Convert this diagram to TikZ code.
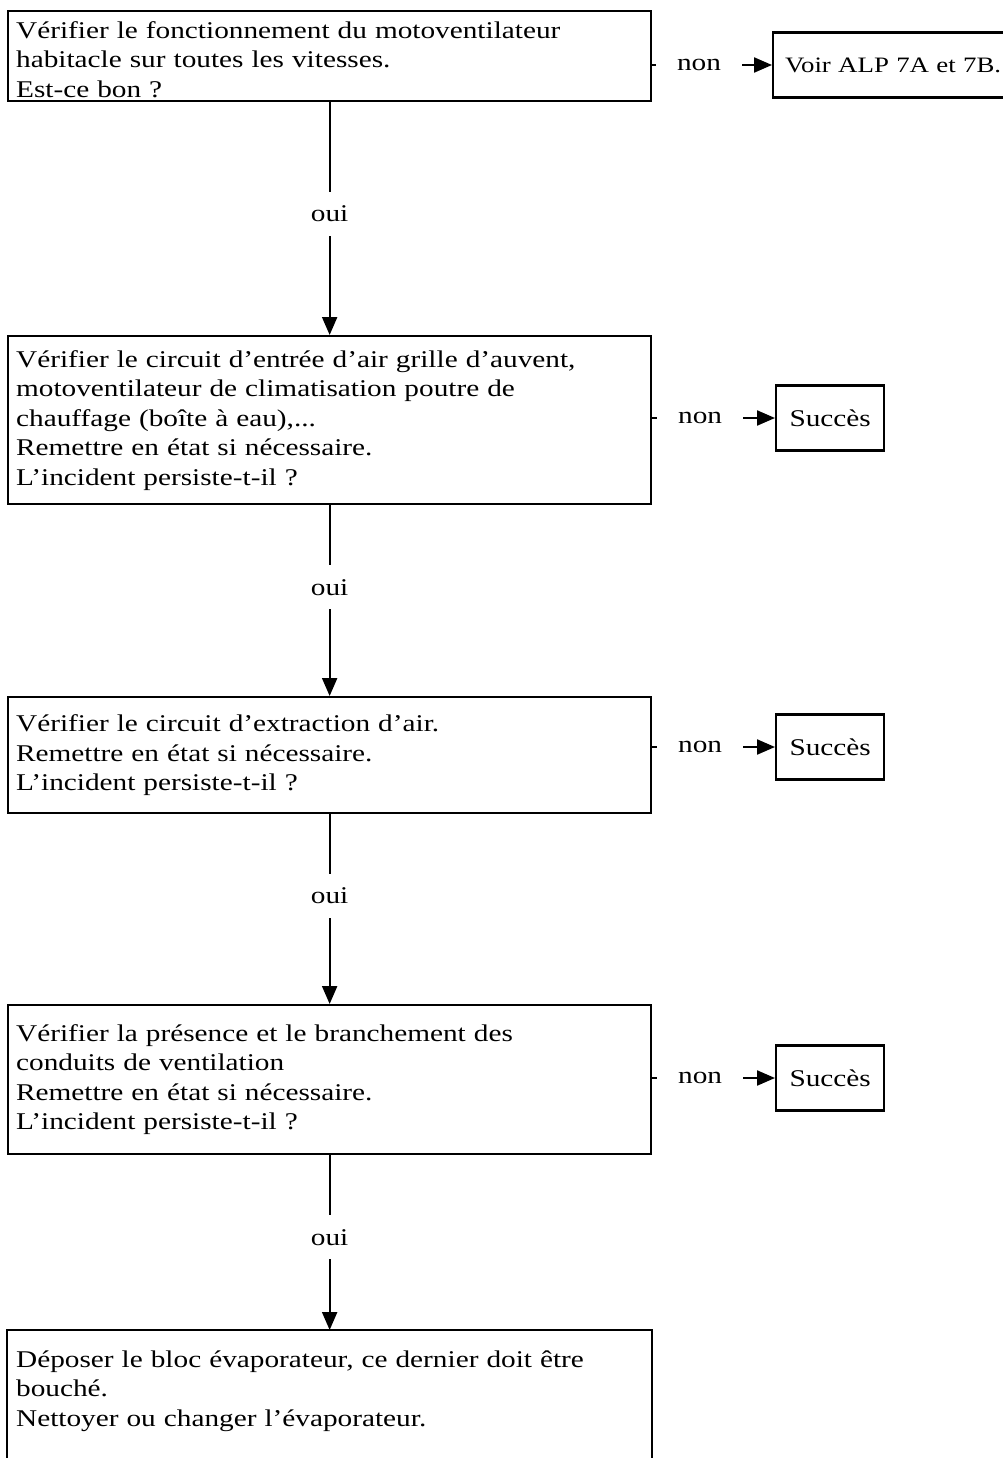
\documentclass[tikz,border=0pt]{standalone}
\usepackage{fontspec}
\setmainfont{Liberation Serif}[FakeStretch=1.22]
\usetikzlibrary{
    arrows.meta,
    positioning
}
\tikzset{
    % Question boxes
    stepbox/.style={
        rectangle,
        draw=black,
        line width=2.3pt,
        anchor=north west,
        minimum width=643pt,
        text width=627pt,
        inner xsep=8pt,
        inner ysep=0pt,
        align=left,
        font=\fontsize{24}{29.5}\selectfont
    },
    % Result boxes
    resultbox/.style={
        rectangle,
        draw=black,
        line width=2.3pt,
        anchor=west,
        minimum width=108pt,
        minimum height=65pt,
        inner xsep=12pt,
        align=left,
        font=\fontsize{24}{29.5}\selectfont
    },
    % Arrows
    flow/.style={
        -{Triangle[length=18pt,width=15pt]},
        line width=2.2pt,
        draw=black
    },
    % Answer labels
    answer/.style={
        fill=white,
        inner xsep=21pt,
        inner ysep=14pt,
        font=\fontsize{24}{29.5}\selectfont
    }
}
\begin{document}
\begin{tikzpicture}[x=1pt, y=-1pt]

    \useasboundingbox (0,0) rectangle (1002,1458);

    % Question boxes
    \node[stepbox, minimum height=90pt] (fan) at (7,10) {\rule{0pt}{24pt}V\'erifier le fonctionnement du motoventilateur\\habitacle sur toutes les vitesses.\\Est-ce bon ?};
    \node[stepbox, minimum height=168pt] (inlet) at (7,335) {V\'erifier le circuit d'entr\'ee d'air grille d'auvent,\\motoventilateur de climatisation poutre de\\chauffage (bo\^ite \`a eau),...\\Remettre en \'etat si n\'ecessaire.\\L'incident persiste-t-il ?};
    \node[stepbox, minimum height=116pt] (extract) at (7,696) {V\'erifier le circuit d'extraction d'air.\\Remettre en \'etat si n\'ecessaire.\\L'incident persiste-t-il ?};
    \node[stepbox, minimum height=149pt] (ducts) at (7,1004) {V\'erifier la pr\'esence et le branchement des\\conduits de ventilation\\Remettre en \'etat si n\'ecessaire.\\L'incident persiste-t-il ?};
    \node[stepbox, draw=none, minimum height=120pt] (evap) at (7,1330) {D\'eposer le bloc \'evaporateur, ce dernier doit \^etre\\bouch\'e.\\Nettoyer ou changer l'\'evaporateur.};
    \draw[line width=2.3pt] ([yshift=-30pt]evap.south west) -- (evap.north west) -- (evap.north east) -- ([yshift=-30pt]evap.south east);

    % Result boxes
    \node[resultbox, text width=240pt, font=\fontsize{22}{29.5}\selectfont] (alp) at (772,65) {Voir ALP 7A et 7B.};
    \node[resultbox] (ok1) at (775,418) {Succ\`es};
    \node[resultbox] (ok2) at (775,747) {Succ\`es};
    \node[resultbox] (ok3) at (775,1078) {Succ\`es};

    % non
    \draw[flow] (alp.west -| fan.east) -- node[answer, pos=0.39] {non} (alp.west);
    \draw[flow] (ok1.west -| inlet.east) -- node[answer, pos=0.39] {non} (ok1.west);
    \draw[flow] (ok2.west -| extract.east) -- node[answer, pos=0.39] {non} (ok2.west);
    \draw[flow] (ok3.west -| ducts.east) -- node[answer, pos=0.39] {non} (ok3.west);

    % oui
    \draw[flow] (fan.south) -- node[answer, pos=0.48] {oui} (inlet.north);
    \draw[flow] (inlet.south) -- node[answer, pos=0.43] {oui} (extract.north);
    \draw[flow] (extract.south) -- node[answer, pos=0.43] {oui} (ducts.north);
    \draw[flow] (ducts.south) -- node[answer, pos=0.47] {oui} (evap.north);

\end{tikzpicture}
\end{document}
